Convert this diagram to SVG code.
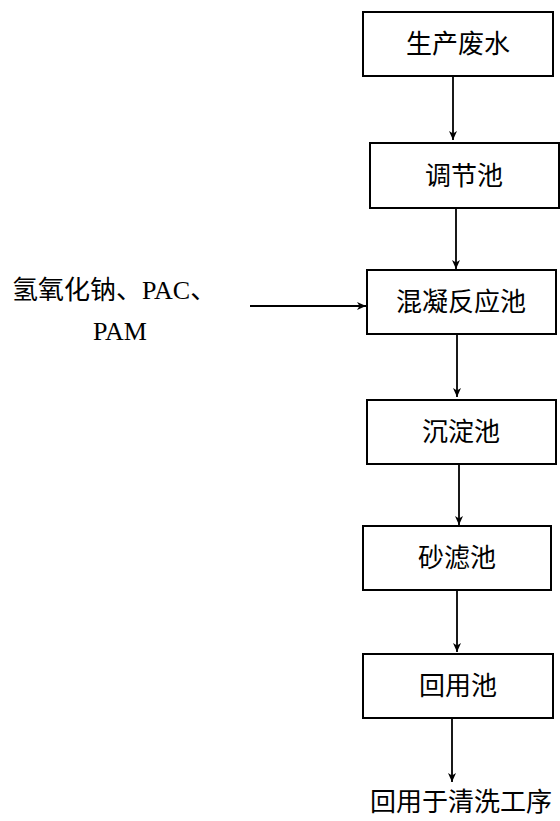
<svg xmlns="http://www.w3.org/2000/svg" width="560" height="821" viewBox="0 0 560 821">
<style>
.box{fill:#fff;stroke:#000;stroke-width:2}
.lbl{font-family:"Liberation Serif","Noto Sans CJK SC",serif;font-size:26px;fill:#000;text-anchor:middle}
.lft{font-family:"Liberation Serif","Noto Sans CJK SC",serif;font-size:26px;fill:#000}
.con{stroke:#000;stroke-width:1.8;fill:none;marker-end:url(#ah)}
</style>
<defs>
<marker id="ah" markerUnits="userSpaceOnUse" markerWidth="10" markerHeight="10" viewBox="0 0 10 10" refX="9" refY="5" orient="auto">
<path d="M0,1 L9,5 L0,9 L2.5,5 Z" fill="#000"/>
</marker>
</defs>
<rect width="560" height="821" fill="#fff"/>
<g id="connectors">
<line class="con" x1="453" y1="76" x2="453" y2="140"/>
<line class="con" x1="456" y1="208" x2="456" y2="269"/>
<line class="con" x1="457" y1="334" x2="457" y2="397"/>
<line class="con" x1="459" y1="464" x2="459" y2="525"/>
<line class="con" x1="457" y1="591" x2="457" y2="652"/>
<line class="con" x1="452" y1="718" x2="452" y2="782"/>
<line class="con" x1="250" y1="306" x2="366" y2="306"/>
</g>
<g id="n1"><rect class="box" x="363" y="12" width="190" height="64"/><text class="lbl" x="458" y="53">生产废水</text></g>
<g id="n2"><rect class="box" x="370" y="143" width="189" height="65"/><text class="lbl" x="464" y="185">调节池</text></g>
<g id="n3"><rect class="box" x="367" y="270" width="189" height="64"/><text class="lbl" x="461" y="311">混凝反应池</text></g>
<g id="n4"><rect class="box" x="367" y="400" width="189" height="64"/><text class="lbl" x="461" y="441">沉淀池</text></g>
<g id="n5"><rect class="box" x="363" y="526" width="188" height="64"/><text class="lbl" x="457" y="567">砂滤池</text></g>
<g id="n6"><rect class="box" x="363" y="654" width="190" height="64"/><text class="lbl" x="458" y="695">回用池</text></g>
<g id="input"><text class="lft" x="12" y="299">氢氧化钠、PAC、</text><text class="lbl" x="120" y="340">PAM</text></g>
<g id="output"><text class="lbl" x="461" y="811">回用于清洗工序</text></g>
</svg>
